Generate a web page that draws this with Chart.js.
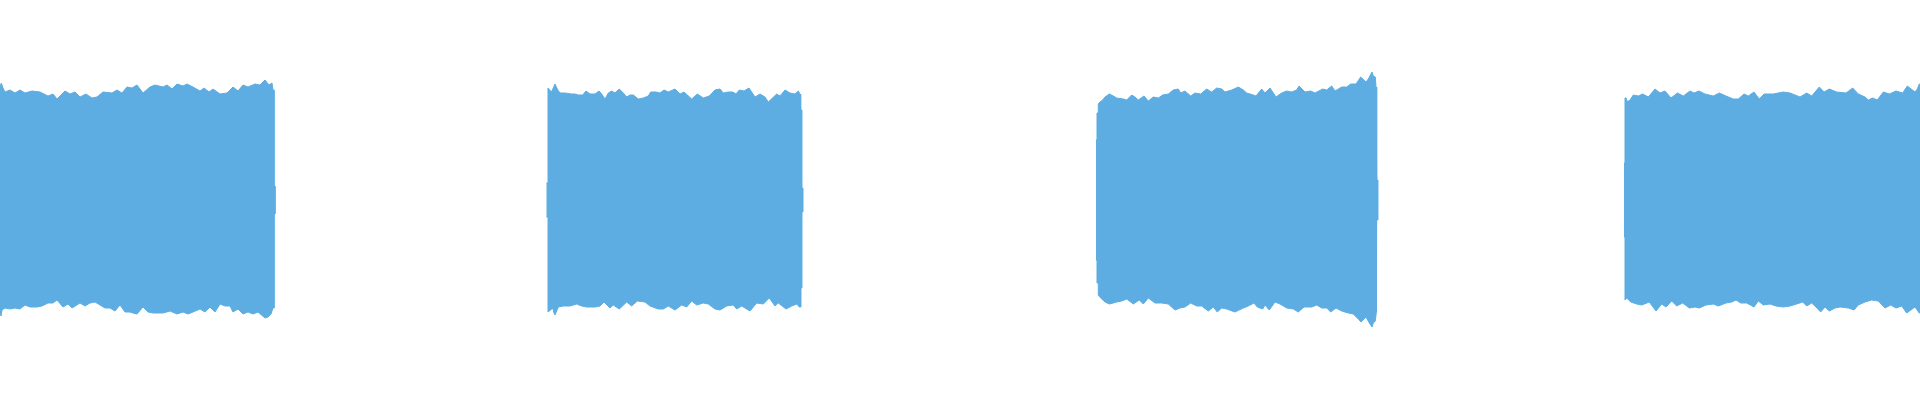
<!DOCTYPE html>
<html>
<head>
<meta charset="utf-8">
<script src="https://cdn.jsdelivr.net/npm/chart.js@4/dist/chart.umd.min.js"></script>
<style>
	html, body { margin: 0; padding: 0; background: #ffffff; }
	#wrap { width: 1920px; height: 400px; }
</style>
</head>
<body>
<div id="wrap"><canvas id="wave" width="1920" height="400"></canvas></div>
<script>
// time in seconds, amplitude in percent of full scale
const block1TopTime = [0, 0.013, 0.03, 0.05, 0.10, 0.15, 0.20, 0.25, 0.32, 0.40, 0.48, 0.53, 0.57, 0.65, 0.70, 0.75, 0.80, 0.86, 0.92, 0.97, 1.03, 1.12, 1.17, 1.22, 1.27, 1.32, 1.37, 1.43, 1.50, 1.55, 1.63, 1.67, 1.72, 1.77, 1.83, 1.87, 1.93, 2.00, 2.04, 2.09, 2.13, 2.20, 2.27, 2.33, 2.38, 2.43, 2.48, 2.55, 2.60, 2.65, 2.69, 2.72, 2.73, 2.74, 2.74, 2.75];
const block1Top = [56.5, 58.5, 56, 54, 55, 53.5, 55, 53.5, 54.5, 54, 52, 53, 50.5, 54.5, 53, 54, 51.5, 53, 51, 51.5, 54, 53.5, 55, 53.5, 56.5, 56, 57.5, 53.5, 56.5, 57.5, 56.5, 57.5, 55.5, 58, 57, 58, 56.5, 54.5, 56, 54, 55.5, 53, 53.5, 56.5, 54.5, 57.5, 56.5, 58, 57.5, 60, 57.5, 58.5, 55, 55, 7, 7];
const block1BottomTime = [0, 0.01, 0.02, 0.05, 0.10, 0.15, 0.20, 0.25, 0.30, 0.37, 0.42, 0.48, 0.53, 0.57, 0.63, 0.68, 0.72, 0.80, 0.85, 0.90, 0.95, 1.00, 1.05, 1.10, 1.15, 1.20, 1.25, 1.30, 1.33, 1.37, 1.43, 1.48, 1.53, 1.63, 1.70, 1.77, 1.83, 1.88, 1.93, 2.00, 2.05, 2.10, 2.15, 2.20, 2.25, 2.30, 2.33, 2.38, 2.43, 2.48, 2.53, 2.58, 2.65, 2.68, 2.71, 2.73, 2.74, 2.74, 2.75];
const block1Bottom = [-56, -58, -55, -54, -54.5, -54, -54.5, -52.5, -53.5, -53.5, -53, -51.5, -51.5, -50, -53.5, -52, -54, -51.5, -53, -51.5, -51, -52.5, -54, -54, -55.5, -52.5, -56, -56, -56.5, -57, -53.5, -56, -56.5, -56.5, -55.5, -57, -56, -57, -56, -54.5, -56, -53.5, -56, -52, -53, -53, -56, -54.5, -57, -56, -57, -56, -59, -58.5, -57, -54, -54, -7, -7];

const block2TopTime = [5.465, 5.48, 5.48, 5.515, 5.55, 5.583, 5.607, 5.65, 5.717, 5.75, 5.783, 5.827, 5.86, 5.90, 5.95, 5.99, 6.017, 6.05, 6.083, 6.117, 6.15, 6.193, 6.233, 6.267, 6.30, 6.333, 6.383, 6.433, 6.483, 6.507, 6.56, 6.60, 6.64, 6.683, 6.75, 6.80, 6.84, 6.917, 6.973, 7.033, 7.093, 7.15, 7.20, 7.233, 7.283, 7.327, 7.36, 7.393, 7.44, 7.49, 7.55, 7.60, 7.65, 7.683, 7.767, 7.80, 7.85, 7.90, 7.95, 7.983, 8.00, 8.007, 8.007, 8.017, 8.017, 8.027];
const block2Top = [8.5, 8.5, 56, 54, 58, 54.5, 53.5, 53.5, 53, 53, 52.5, 52.5, 54.5, 53, 53, 54.5, 53, 50.5, 53.5, 54.5, 53.5, 55.5, 53.5, 51.5, 52.5, 52.5, 50.5, 51, 52, 54, 54, 53.5, 55, 54, 55.5, 53, 54, 50.5, 53, 51, 52, 55, 55.5, 53.5, 54, 54, 53, 55, 54.5, 56, 51.5, 53, 51.5, 49, 53, 52, 55, 53.5, 53, 54.5, 53, 53, 45, 45, 6, 6];
const block2BottomTime = [5.465, 5.48, 5.48, 5.507, 5.527, 5.54, 5.55, 5.583, 5.633, 5.70, 5.767, 5.817, 5.867, 5.95, 6.00, 6.04, 6.10, 6.133, 6.193, 6.267, 6.317, 6.373, 6.45, 6.50, 6.583, 6.633, 6.683, 6.75, 6.817, 6.867, 6.917, 6.967, 7.033, 7.083, 7.15, 7.20, 7.267, 7.333, 7.367, 7.417, 7.50, 7.567, 7.633, 7.693, 7.75, 7.783, 7.86, 7.917, 7.967, 7.993, 8.007, 8.007, 8.017, 8.017, 8.027];
const block2Bottom = [-8.5, -8.5, -56, -55, -54, -56.5, -57.5, -53.5, -53, -53, -52, -53, -53.5, -53.5, -53, -51, -54, -52.5, -54.5, -51, -53, -50.5, -51, -53, -54.5, -54.5, -53, -55, -52.5, -53.5, -50.5, -52.5, -51.5, -52, -54.5, -55, -53, -52.5, -54.5, -53, -55.5, -51.5, -52, -49, -53, -51.5, -54.5, -53, -52, -53.5, -53.5, -44, -44, -6, -6];

const block3TopTime = [10.96, 10.97, 10.97, 10.983, 10.983, 11.00, 11.027, 11.05, 11.093, 11.133, 11.167, 11.233, 11.267, 11.317, 11.35, 11.383, 11.44, 11.483, 11.533, 11.583, 11.627, 11.683, 11.733, 11.783, 11.807, 11.85, 11.907, 11.95, 12.007, 12.067, 12.117, 12.167, 12.217, 12.25, 12.317, 12.383, 12.433, 12.467, 12.533, 12.56, 12.617, 12.65, 12.70, 12.76, 12.817, 12.867, 12.917, 12.967, 12.99, 13.05, 13.107, 13.15, 13.227, 13.267, 13.317, 13.35, 13.417, 13.467, 13.507, 13.56, 13.607, 13.66, 13.683, 13.72, 13.733, 13.753, 13.76, 13.767, 13.767, 13.777];
const block3Top = [30, 30, 43.5, 43.5, 48, 49, 50, 51.5, 53, 52, 51, 50.5, 50, 52.5, 51.5, 50, 52, 49.5, 51.5, 51, 52.5, 53, 55, 55.5, 53.5, 54.5, 52, 53.5, 53, 55.5, 54, 56, 55.5, 54, 55, 56.5, 55, 53.5, 52.5, 52, 55.5, 53.5, 56, 51.5, 53.5, 54.5, 54, 55, 57, 54, 54.5, 53.5, 55.5, 55, 57, 54.5, 56.5, 56.5, 58, 58, 61.5, 59, 60.5, 64, 62, 61.5, 56.5, 56.5, 10, 10];
const block3BottomTime = [10.96, 10.97, 10.97, 10.983, 10.983, 11.007, 11.05, 11.093, 11.133, 11.167, 11.217, 11.267, 11.333, 11.393, 11.433, 11.483, 11.55, 11.617, 11.683, 11.75, 11.80, 11.85, 11.907, 11.967, 12.017, 12.083, 12.133, 12.173, 12.217, 12.267, 12.35, 12.433, 12.483, 12.54, 12.573, 12.627, 12.65, 12.693, 12.75, 12.80, 12.867, 12.933, 12.983, 13.04, 13.117, 13.167, 13.217, 13.267, 13.307, 13.36, 13.417, 13.483, 13.533, 13.583, 13.61, 13.66, 13.693, 13.72, 13.733, 13.753, 13.76, 13.767, 13.767, 13.777];
const block3Bottom = [-30, -30, -41.5, -41.5, -47.5, -49, -51, -52, -51.5, -51, -50.5, -49.5, -52, -50, -52, -49, -51.5, -51.5, -52, -55, -54, -53.5, -51.5, -53, -53, -55.5, -53.5, -56, -54, -54.5, -56, -54, -53, -51.5, -53.5, -54.5, -52.5, -55, -51, -52, -54, -54.5, -56, -53.5, -53.5, -52.5, -54, -54, -56, -54, -55.5, -56.5, -57, -59.5, -61, -58.5, -61.5, -63.5, -61.5, -60.5, -56, -56, -10, -10];

const block4TopTime = [16.24, 16.25, 16.25, 16.26, 16.26, 16.293, 16.333, 16.383, 16.427, 16.483, 16.55, 16.60, 16.65, 16.71, 16.773, 16.833, 16.90, 16.94, 16.99, 17.05, 17.133, 17.193, 17.26, 17.333, 17.383, 17.44, 17.483, 17.54, 17.593, 17.64, 17.733, 17.833, 17.90, 18.00, 18.067, 18.117, 18.193, 18.24, 18.293, 18.367, 18.46, 18.527, 18.583, 18.65, 18.683, 18.727, 18.773, 18.833, 18.893, 18.96, 19.027, 19.073, 19.15, 19.173, 19.193, 19.20];
const block4Top = [18.5, 18.5, 51, 51, 49.5, 49.5, 52.5, 52, 53, 51.5, 55.5, 53.5, 54.5, 51, 53.5, 52, 54.5, 53.5, 54.5, 53, 52, 53.5, 52, 50.5, 50.5, 53, 52, 54, 50.5, 53, 53, 54, 53.5, 51.5, 53.5, 52, 56.5, 54, 55.5, 54, 53.5, 56, 53, 51.5, 50, 51, 50, 54, 53, 54.5, 53.5, 57, 54, 55.5, 58, 58];
const block4BottomTime = [16.24, 16.25, 16.25, 16.267, 16.307, 16.367, 16.417, 16.493, 16.56, 16.617, 16.66, 16.717, 16.767, 16.827, 16.893, 16.95, 16.993, 17.06, 17.133, 17.183, 17.26, 17.317, 17.36, 17.407, 17.467, 17.54, 17.583, 17.633, 17.70, 17.76, 17.833, 17.90, 17.967, 18.027, 18.067, 18.117, 18.16, 18.207, 18.25, 18.293, 18.35, 18.40, 18.483, 18.54, 18.583, 18.65, 18.717, 18.783, 18.85, 18.907, 18.96, 19.017, 19.067, 19.15, 19.193, 19.20];
const block4Bottom = [-18.5, -18.5, -50, -49, -51, -52, -52.5, -51, -55.5, -52, -53.5, -50.5, -53, -51.5, -54, -53.5, -54, -52.5, -52, -53, -51.5, -51, -50, -51.5, -51.5, -53.5, -50.5, -52.5, -52, -53, -53.5, -53, -52, -51, -53, -51.5, -53.5, -56, -53.5, -55.5, -54, -53.5, -54, -55, -52.5, -51, -50, -50.5, -54, -52.5, -54, -53, -56.5, -53.5, -56.5, -56.5];

const totalTime = 19.2;
const waveColor = '#5dade2';

// top edge left to right, then bottom edge back, filled as one shape
function outline(topTime, top, bottomTime, bottom) {
	const points = [];
	for (let i = 0; i < topTime.length; i++)
		points.push({ x: topTime[i], y: top[i] });
	for (let i = bottomTime.length - 1; i >= 0; i--)
		points.push({ x: bottomTime[i], y: bottom[i] });
	return {
		data: points,
		showLine: true,
		fill: 'shape',
		backgroundColor: waveColor,
		borderColor: waveColor,
		borderWidth: 1,
		pointRadius: 0,
		tension: 0
	};
}

new Chart(document.getElementById('wave'), {
	type: 'scatter',
	data: {
		datasets: [
			outline(block1TopTime, block1Top, block1BottomTime, block1Bottom),
			outline(block2TopTime, block2Top, block2BottomTime, block2Bottom),
			outline(block3TopTime, block3Top, block3BottomTime, block3Bottom),
			outline(block4TopTime, block4Top, block4BottomTime, block4Bottom)
		]
	},
	options: {
		responsive: false,
		animation: false,
		layout: { padding: 0 },
		plugins: {
			legend: { display: false },
			tooltip: { enabled: false }
		},
		scales: {
			x: { type: 'linear', min: 0, max: totalTime, display: false },
			y: { min: -100, max: 100, display: false }
		}
	}
});
</script>
</body>
</html>
